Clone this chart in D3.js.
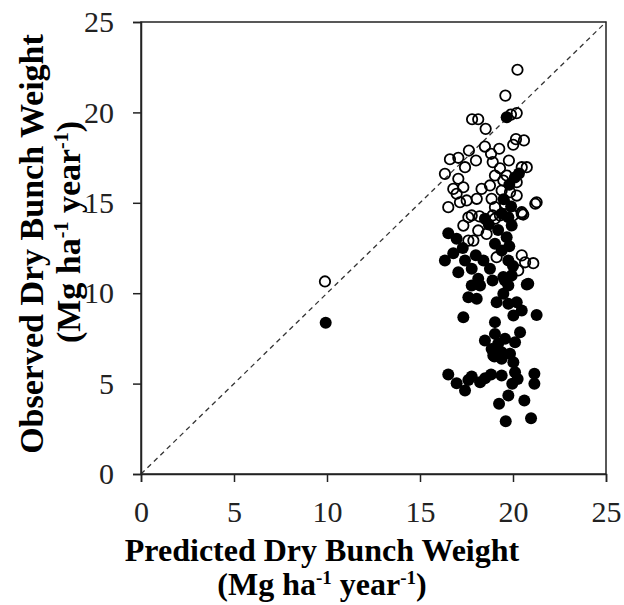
<!DOCTYPE html>
<html><head><meta charset="utf-8">
<script src="https://cdn.jsdelivr.net/npm/d3@7"></script>
<style>body{margin:0;background:#fff}svg{display:block}</style>
</head><body>
<script>
const xTicks = [0,5,10,15,20,25];
const yTicks = [0,5,10,15,20,25];
const xTitle = ["Predicted Dry Bunch Weight", "(Mg ha", "-1", " year", "-1", ")"];
const yTitle = ["Observed Dry Bunch Weight"];
// open circles: [predicted, observed]
const openPts = [
[9.89,10.65],
[20.24,22.36],[19.59,20.93],[17.80,19.62],[18.13,19.62],[18.53,19.09],[19.89,19.88],[20.20,19.96],
[20.16,18.52],[20.59,18.45],[20.01,18.21],[18.49,18.11],[19.26,17.99],[17.63,17.89],[18.82,17.71],
[16.61,17.41],[17.06,17.49],[18.01,17.34],[17.42,16.97],[19.78,17.34],[18.91,17.25],[19.30,16.91],
[20.47,16.97],[20.74,16.97],[16.34,16.60],[17.06,16.33],[19.03,16.51],[19.66,16.51],
[17.33,15.86],[16.79,15.77],[16.97,15.50],[18.31,15.77],[18.76,15.96],[19.48,16.23],[20.20,16.14],
[18.05,15.22],[17.51,15.13],[17.15,15.03],[16.52,14.76],[19.39,15.68],[19.84,15.59],[20.20,15.40],
[21.27,15.03],[21.20,14.95],[20.47,14.48],[19.57,14.94],[19.03,14.76],[18.85,15.22],
[17.33,13.74],[17.60,12.91],[17.87,12.91],[18.13,13.47],[18.58,13.28],[19.12,11.99],[20.47,12.09],
[20.65,11.71],[21.09,11.66],[20.28,11.26],[20.47,14.39],[19.03,14.12],[17.78,14.30],
[17.60,14.20],[18.20,14.25],[18.90,14.30],[19.30,14.30],[20.00,14.30],[20.55,14.35]
];
const filledPts = [
[9.93,8.36],
[19.66,19.73],[20.32,16.62],[20.10,16.40],
[19.80,16.00],[19.50,15.20],[19.90,14.80],[19.40,14.40],[19.75,14.20],[19.93,13.74],[19.20,13.50],
[19.66,13.10],[19.03,12.73],[19.39,12.36],[19.80,12.60],[19.75,11.81],[19.93,10.98],[19.48,10.89],
[19.75,10.43],[20.00,11.50],[18.49,14.12],[18.70,13.80],
[16.52,13.32],[16.97,13.01],[16.79,12.21],[16.34,11.81],[17.42,11.81],[17.06,11.16],[17.78,11.35],
[18.13,10.80],[18.41,11.81],[18.76,11.35],[17.30,12.50],[18.00,12.10],
[20.82,10.52],[20.74,10.48],
[17.78,10.43],[18.23,10.43],[17.60,9.78],[18.05,9.69],[19.48,9.97],[19.12,9.50],[19.75,9.41],
[20.20,9.50],[20.02,8.77],[20.47,9.04],[17.33,8.67],[19.03,8.40],[21.27,8.80],[19.57,10.70],[18.90,10.70],
[18.49,7.38],[19.03,7.75],[19.57,7.48],[20.38,7.84],[20.11,7.29],[18.85,6.92],[19.39,6.74],[19.84,6.65],
[19.20,7.20],[19.00,6.50],
[16.52,5.50],[16.97,5.02],[17.42,4.62],[17.78,5.39],[18.23,5.08],[18.82,5.50],[19.39,5.45],[18.94,6.55],
[19.39,6.37],[20.02,6.18],[20.11,5.63],[19.96,4.99],[19.75,4.34],[19.25,3.88],[20.61,4.07],[21.15,5.54],
[21.15,4.99],[19.61,2.92],[20.97,3.09],[20.25,5.26],[17.60,5.20],[18.50,5.30]
];

const W = 624, H = 605;
const m = {left:141, right:18, top:22, bottom:131};
const svg = d3.select("body").append("svg").attr("width",W).attr("height",H);
const x = d3.scaleLinear().domain([0,25]).range([m.left, W-m.right]);
const y = d3.scaleLinear().domain([0,25]).range([H-m.bottom, m.top]);
const font = "'Liberation Serif','Times New Roman',serif";

// frame
svg.append("rect").attr("x",x(0)).attr("y",y(25)).attr("width",x(25)-x(0)).attr("height",y(0)-y(25))
  .attr("fill","none").attr("stroke","#222").attr("stroke-width",1.5);

// 1:1 line
svg.append("line").attr("x1",x(0)).attr("y1",y(0)).attr("x2",x(25)).attr("y2",y(25))
  .attr("stroke","#333").attr("stroke-width",1.3).attr("stroke-dasharray","5,4");

const xa = svg.append("g").attr("transform",`translate(0,${y(0)})`)
  .call(d3.axisBottom(x).tickValues(xTicks).tickSize(8).tickPadding(19).tickFormat(d3.format("d")));
const ya = svg.append("g").attr("transform",`translate(${x(0)},0)`)
  .call(d3.axisLeft(y).tickValues(yTicks).tickSize(8).tickPadding(19).tickFormat(d3.format("d")));
[xa,ya].forEach(a=>{
  a.select(".domain").attr("stroke","#222").attr("stroke-width",1.5);
  a.selectAll(".tick line").attr("stroke","#222").attr("stroke-width",1.5);
  a.selectAll(".tick text").attr("font-family",font).attr("font-size",30).attr("fill","#222");
});

// points
svg.append("g").selectAll("circle").data(openPts).join("circle")
  .attr("cx",d=>x(d[0])).attr("cy",d=>y(d[1])).attr("r",5.2)
  .attr("fill","none").attr("stroke","#000").attr("stroke-width",1.8);
svg.append("g").selectAll("circle").data(filledPts).join("circle")
  .attr("cx",d=>x(d[0])).attr("cy",d=>y(d[1])).attr("r",6)
  .attr("fill","#000");

// titles
svg.append("text").attr("x",322).attr("y",561).attr("text-anchor","middle")
  .attr("font-family",font).attr("font-weight","bold").attr("font-size",32).text(xTitle[0]);
function unitLine(sel, sup, shift){
  sel.append("tspan").text(xTitle[1]);
  sel.append("tspan").attr("font-size",sup).attr("dy",-shift).text(xTitle[2]);
  sel.append("tspan").attr("dy",shift).text(xTitle[3]);
  sel.append("tspan").attr("font-size",sup).attr("dy",-shift).text(xTitle[4]);
  sel.append("tspan").attr("dy",shift).text(xTitle[5]);
}
const xt2 = svg.append("text").attr("x",322).attr("y",595).attr("text-anchor","middle")
  .attr("font-family",font).attr("font-weight","bold").attr("font-size",32);
unitLine(xt2, 19, 11);

svg.append("text").attr("transform","translate(43,244) rotate(-90)").attr("text-anchor","middle")
  .attr("font-family",font).attr("font-weight","bold").attr("font-size",34).text(yTitle[0]);
const yt2 = svg.append("text").attr("transform","translate(80,232) rotate(-90)").attr("text-anchor","middle")
  .attr("font-family",font).attr("font-weight","bold").attr("font-size",34);
unitLine(yt2, 20, 12);
</script>
</body></html>
